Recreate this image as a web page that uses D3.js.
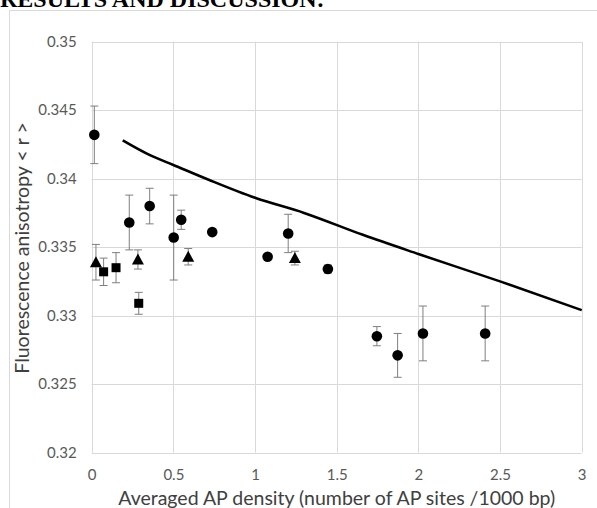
<!DOCTYPE html>
<html><head><meta charset="utf-8">
<script src="https://cdn.jsdelivr.net/npm/d3@7"></script>
<style>
html,body{margin:0;padding:0;background:#fff;}
svg{display:block;}
</style></head>
<body>
<script>
// ---- data ----
const circleX   = [0.016, 0.23, 0.355, 0.502, 0.548, 0.738, 1.077, 1.203, 1.446, 1.746, 1.873, 2.028, 2.409];
const circleY   = [0.3432, 0.3368, 0.3380, 0.3357, 0.3370, 0.3361, 0.3343, 0.3360, 0.3334, 0.3285, 0.3271, 0.3287, 0.3287];
const circleErr = [0.0021, 0.0020, 0.0013, 0.0031, 0.0007, 0, 0, 0.0014, 0.0003, 0.0007, 0.0016, 0.0020, 0.0020];

const triX   = [0.026, 0.283, 0.591, 1.244];
const triY   = [0.3339, 0.3341, 0.3343, 0.3342];
const triErr = [0.0013, 0.0007, 0.0006, 0.0005];

const sqX   = [0.073, 0.149, 0.288];
const sqY   = [0.3332, 0.3335, 0.3309];
const sqErr = [0.0010, 0.0011, 0.0008];

const lineX = [0.19, 0.36, 0.5, 0.72, 1.0, 1.3, 1.66, 2.0, 2.5, 3.0];
const lineY = [0.3428, 0.3417, 0.3410, 0.3399, 0.3386, 0.3375, 0.3359, 0.3345, 0.3325, 0.3304];

const xTicks = [0, 0.5, 1, 1.5, 2, 2.5, 3];
const xTickLabels = ["0", "0.5", "1", "1.5", "2", "2.5", "3"];
const yTicks = [0.32, 0.325, 0.33, 0.335, 0.34, 0.345, 0.35];
const yTickLabels = ["0.32", "0.325", "0.33", "0.335", "0.34", "0.345", "0.35"];

const header = "RESULTS AND DISCUSSION:";
const xTitle = "Averaged AP density (number of AP sites /1000 bp)";
const yTitle = "Fluorescence anisotropy < r >";

// ---- layout ----
const W = 597, H = 508;
const plot = {left: 91.7, right: 581.7, top: 41.7, bottom: 452.6};
const font = "Lato, 'Open Sans', sans-serif";

const svg = d3.select("body").append("svg").attr("width", W).attr("height", H);
svg.append("rect").attr("width", W).attr("height", H).attr("fill", "#fff");

// header text (cut off at top, as in the reference)
svg.append("text").attr("x", 0).attr("y", 7)
  .attr("font-family", "'Liberation Serif', 'Times New Roman', serif")
  .attr("font-weight", "bold").attr("font-size", 24).attr("fill", "#000")
  .text(header);

// chart frame
svg.append("path").attr("d", `M9.5,${H} V10.5 H${W}`)
  .attr("fill", "none").attr("stroke", "#d9d9d9").attr("stroke-width", 1);

const x = d3.scaleLinear().domain([0, 3]).range([plot.left, plot.right]);
const y = d3.scaleLinear().domain([0.32, 0.35]).range([plot.bottom, plot.top]);

// gridlines
const g = svg.append("g");
g.selectAll(".vg").data(xTicks).join("line")
  .attr("x1", d => Math.round(x(d)) + 0.5).attr("x2", d => Math.round(x(d)) + 0.5)
  .attr("y1", plot.top).attr("y2", plot.bottom)
  .attr("stroke", "#d9d9d9").attr("stroke-width", 1);
g.selectAll(".hg").data(yTicks).join("line")
  .attr("y1", d => Math.round(y(d)) + 0.5).attr("y2", d => Math.round(y(d)) + 0.5)
  .attr("x1", plot.left).attr("x2", plot.right)
  .attr("stroke", "#d9d9d9").attr("stroke-width", 1);

// axes (labels only, via d3 axes)
const xAxis = d3.axisBottom(x).tickValues(xTicks).tickFormat((d, i) => xTickLabels[i]).tickSize(0).tickPadding(17);
const xa = svg.append("g").attr("transform", `translate(0,${plot.bottom})`).call(xAxis);
xa.select(".domain").remove();
xa.selectAll("text").attr("font-family", font).attr("font-size", 15).attr("fill", "#595959");

const yAxis = d3.axisLeft(y).tickValues(yTicks).tickFormat((d, i) => yTickLabels[i]).tickSize(0).tickPadding(15);
const ya = svg.append("g").attr("transform", `translate(${plot.left},0)`).call(yAxis);
ya.select(".domain").remove();
ya.selectAll("text").attr("font-family", font).attr("font-size", 15).attr("fill", "#595959");

// axis titles
svg.append("text").attr("x", (plot.left + plot.right) / 2).attr("y", 505)
  .attr("text-anchor", "middle").attr("font-family", font).attr("font-size", 19.5).attr("fill", "#404040")
  .text(xTitle);
svg.append("text").attr("transform", `translate(29,248) rotate(-90)`)
  .attr("text-anchor", "middle").attr("font-family", font).attr("font-size", 19.5).attr("fill", "#404040")
  .text(yTitle);

// model line
const lineData = lineX.map((v, i) => [v, lineY[i]]);
svg.append("path").datum(lineData)
  .attr("d", d3.line().x(d => x(d[0])).y(d => y(d[1])).curve(d3.curveMonotoneX))
  .attr("fill", "none").attr("stroke", "#000").attr("stroke-width", 2.6);

// error bars
function errBars(xs, ys, es) {
  const data = xs.map((v, i) => ({x: v, y: ys[i], e: es[i]})).filter(d => d.e > 0);
  const eg = svg.append("g").attr("stroke", "#7f7f7f").attr("stroke-width", 1).attr("fill", "none");
  eg.selectAll(".v").data(data).join("line")
    .attr("x1", d => x(d.x)).attr("x2", d => x(d.x))
    .attr("y1", d => y(d.y + d.e)).attr("y2", d => y(d.y - d.e));
  eg.selectAll(".t").data(data).join("line")
    .attr("x1", d => x(d.x) - 4).attr("x2", d => x(d.x) + 4)
    .attr("y1", d => y(d.y + d.e)).attr("y2", d => y(d.y + d.e));
  eg.selectAll(".b").data(data).join("line")
    .attr("x1", d => x(d.x) - 4).attr("x2", d => x(d.x) + 4)
    .attr("y1", d => y(d.y - d.e)).attr("y2", d => y(d.y - d.e));
}
errBars(circleX, circleY, circleErr);
errBars(triX, triY, triErr);
errBars(sqX, sqY, sqErr);

// markers
svg.append("g").selectAll("circle").data(circleX.map((v, i) => [v, circleY[i]])).join("circle")
  .attr("cx", d => x(d[0])).attr("cy", d => y(d[1])).attr("r", 5.3).attr("fill", "#000");
svg.append("g").selectAll("path").data(triX.map((v, i) => [v, triY[i]])).join("path")
  .attr("transform", d => `translate(${x(d[0])},${y(d[1])})`)
  .attr("d", "M0,-6 L6,5 L-6,5 Z").attr("fill", "#000");
svg.append("g").selectAll("rect").data(sqX.map((v, i) => [v, sqY[i]])).join("rect")
  .attr("x", d => x(d[0]) - 4.5).attr("y", d => y(d[1]) - 4.5)
  .attr("width", 9).attr("height", 9).attr("fill", "#000");
</script>
</body></html>
